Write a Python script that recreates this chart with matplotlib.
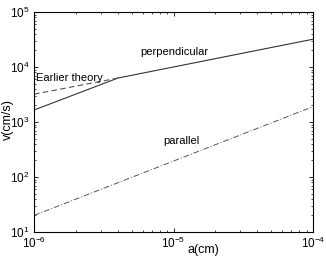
import matplotlib
matplotlib.use("Agg")
import matplotlib.pyplot as plt
from matplotlib.ticker import LogLocator, NullFormatter

plt.rcParams["font.family"] = ["Liberation Sans", "DejaVu Sans"]
plt.rcParams["mathtext.fontset"] = "custom"
plt.rcParams["mathtext.rm"] = "Liberation Sans"
plt.rcParams["mathtext.it"] = "Liberation Sans"

# perpendicular (solid): kink at a = 4e-6
perp_a = [1e-6, 4e-6, 1e-4]
perp_v = [1650, 6300, 32000]

# earlier theory (dashed), joins the solid curve at the kink
early_a = [1e-6, 4e-6]
early_v = [3200, 6300]

# parallel (dash-dot)
par_a = [1e-6, 1e-4]
par_v = [20, 1900]

fig = plt.figure(figsize=(3.26, 2.58), dpi=100)
ax = fig.add_axes([34 / 326, 1 - 232 / 258, 279 / 326, 220 / 258])

ax.plot(perp_a, perp_v, color="#333333", linewidth=0.8, linestyle="-")
ax.plot(early_a, early_v, color="#555555", linewidth=0.8, linestyle=(0, (5, 3)))
ax.plot(par_a, par_v, color="#555555", linewidth=0.7, linestyle=(0, (6, 2, 1, 2)))

ax.set_xscale("log")
ax.set_yscale("log")
ax.set_xlim(1e-6, 1e-4)
ax.set_ylim(1e1, 1e5)

ax.xaxis.set_major_locator(LogLocator(base=10, numticks=5))
ax.yaxis.set_major_locator(LogLocator(base=10, numticks=6))
ax.xaxis.set_minor_locator(LogLocator(base=10, subs=range(2, 10), numticks=20))
ax.yaxis.set_minor_locator(LogLocator(base=10, subs=range(2, 10), numticks=20))
ax.xaxis.set_minor_formatter(NullFormatter())
ax.yaxis.set_minor_formatter(NullFormatter())

ax.tick_params(which="both", direction="in", top=True, right=True, labelsize=8.5)
ax.tick_params(which="major", length=3, width=0.6)
ax.tick_params(which="minor", length=1.5, width=0.5)
ax.tick_params(axis="x", pad=3)
for sp in ax.spines.values():
    sp.set_linewidth(0.8)

ax.text(1.03e-6, 5100, "Earlier theory", fontsize=8, va="bottom", ha="left")
ax.text(5.75e-6, 1.5e4, "perpendicular", fontsize=8, va="bottom", ha="left")
ax.text(8.4e-6, 365, "parallel", fontsize=8, va="bottom", ha="left")

fig.text(203 / 326, 1 - 250 / 258, "a(cm)", fontsize=9, ha="center", va="center")
fig.text(8 / 326, 1 - 120 / 258, "v(cm/s)", fontsize=9, ha="center", va="center",
         rotation=90)

fig.savefig("out.png", dpi=100)
